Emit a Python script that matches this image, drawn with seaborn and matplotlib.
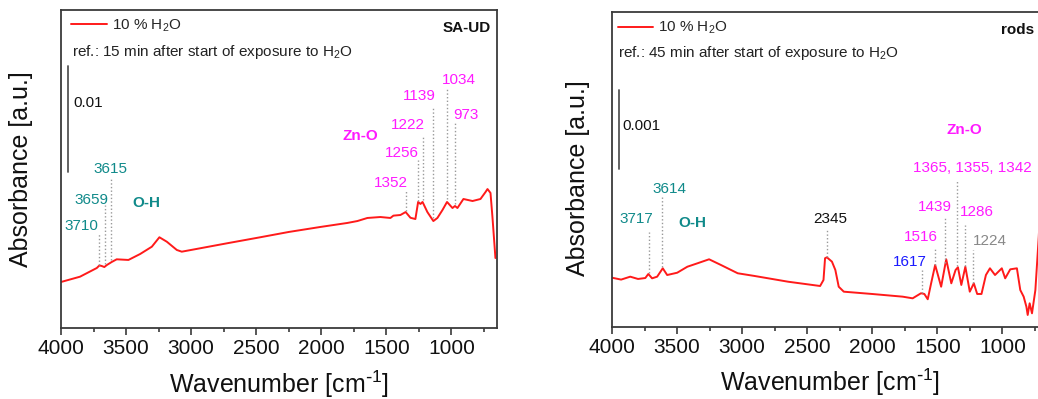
import numpy as np
import pandas as pd
import matplotlib
matplotlib.use("Agg")
import matplotlib.pyplot as plt
from matplotlib.ticker import MultipleLocator
import seaborn as sns

# ---------------- data ----------------
# Left panel: SA-UD, 10 % H2O (absorbance, arbitrary offset)
sa_wn = [4000, 3854, 3725, 3705, 3687, 3667, 3648, 3610, 3572, 3482, 3392, 3302,
         3244, 3187, 3110, 3072, 2931, 2725, 2469, 2250, 2008, 1800, 1723, 1646,
         1546, 1469, 1446, 1392, 1352, 1315, 1277, 1256, 1238, 1222, 1185, 1139,
         1108, 1069, 1034, 992, 973, 954, 908, 838, 777, 738, 723, 700, 685, 662]
sa_abs = [0.00434, 0.00484, 0.00566, 0.00590, 0.00585, 0.00575, 0.00594, 0.00623,
          0.00648, 0.00642, 0.00698, 0.00767, 0.00856, 0.00814, 0.00736, 0.00720,
          0.00752, 0.00799, 0.00856, 0.00906, 0.00953, 0.00991, 0.01009, 0.01038,
          0.01047, 0.01038, 0.01060, 0.01066, 0.01094, 0.01040, 0.01028, 0.01189,
          0.01170, 0.01189, 0.01094, 0.01009, 0.01038, 0.01113, 0.01189, 0.01132,
          0.01151, 0.01132, 0.01217, 0.01198, 0.01217, 0.01283, 0.01311, 0.01274,
          0.01047, 0.00660]

# Right panel: rods, 10 % H2O (absorbance x 1e-3, converted below)
rods_wn = [4000, 3930, 3860, 3800, 3744, 3721, 3692, 3653, 3610, 3576, 3499, 3421,
           3344, 3254, 3163, 3034, 2905, 2646, 2401, 2375, 2363, 2349, 2310, 2284,
           2258, 2219, 2002, 1767, 1690, 1626, 1600, 1574, 1548, 1517, 1471, 1432,
           1393, 1360, 1342, 1316, 1285, 1251, 1220, 1194, 1161, 1127, 1096, 1057,
           1005, 979, 940, 889, 863, 837, 816, 806, 791, 773, 747, 721, 708, 697,
           670, 640]
rods_mabs = [0.624, 0.600, 0.637, 0.608, 0.620, 0.671, 0.616, 0.637, 0.743, 0.658,
             0.687, 0.763, 0.806, 0.857, 0.785, 0.680, 0.646, 0.573, 0.519, 0.595,
             0.870, 0.882, 0.827, 0.722, 0.510, 0.447, 0.418, 0.384, 0.363, 0.427,
             0.418, 0.351, 0.553, 0.785, 0.510, 0.857, 0.553, 0.722, 0.756, 0.532,
             0.763, 0.447, 0.553, 0.418, 0.418, 0.658, 0.743, 0.658, 0.743, 0.616,
             0.730, 0.743, 0.468, 0.384, 0.257, 0.152, 0.300, 0.173, 0.468, 1.143,
             1.565, 1.273, 1.418, 1.354]
rods_abs = [v * 1e-3 for v in rods_mabs]

series_label = "10 % H$_2$O"
sa_ref_text = "ref.: 15 min after start of exposure to H$_2$O"
rods_ref_text = "ref.: 45 min after start of exposure to H$_2$O"
sa_scale = 0.01
rods_scale = 0.001

sa_peaks = ["3710", "3659", "3615", "1352", "1256", "1222", "1139", "1034", "973"]
rods_peaks = ["3717", "3614", "2345", "1617", "1516", "1439",
              "1365, 1355, 1342", "1286", "1224"]

# ---------------- style ----------------
sns.set_theme(style="white")
plt.rcParams["font.family"] = ["Liberation Sans", "DejaVu Sans"]
plt.rcParams["mathtext.default"] = "regular"

RED = "#FF1A1A"
TEAL = "#108A8A"
MAG = "#FF1AFF"
BLUE = "#1A1AFF"
GRAY = "#888888"
SPINE = "#3A3A3A"
DOT = "#999999"

fig = plt.figure(figsize=(10.38, 3.99), dpi=100)
W, H = 1038.0, 399.0
axL = fig.add_axes([61 / W, (H - 328) / H, 436 / W, 318 / H])
axR = fig.add_axes([612 / W, (H - 327) / H, 436 / W, 315 / H])

XLABEL = "Wavenumber [cm$^{\\text{-}1}$]"


def style_axes(ax, ylim):
    ax.set_xlim(4000, 650)
    ax.set_ylim(*ylim)
    ax.xaxis.set_major_locator(MultipleLocator(500))
    ax.xaxis.set_minor_locator(MultipleLocator(250))
    ax.tick_params(axis="x", which="major", bottom=True, top=False, direction="out",
                   length=5, width=1.2, color=SPINE, labelsize=15, pad=3,
                   labelcolor="#111111")
    ax.tick_params(axis="x", which="minor", bottom=True, top=False, direction="out",
                   length=3, width=1.2, color=SPINE)
    ax.tick_params(axis="y", left=False, right=False, labelleft=False)
    for s in ax.spines.values():
        s.set_visible(True)
        s.set_color(SPINE)
        s.set_linewidth(1.3)
    ax.grid(False)
    ax.set_xlabel(XLABEL, fontsize=18, color="#111111")
    ax.set_ylabel("Absorbance [a.u.]", fontsize=18, color="#111111")


def draw_curve(ax, wn, ab):
    df = pd.DataFrame({"wn": wn, "ab": ab})
    sns.lineplot(data=df, x="wn", y="ab", ax=ax, color=RED, linewidth=1.4,
                 sort=False, estimator=None, label=series_label)


def peak(ax, wn, ab, text, xline, ytop, xt, yt, color, ha="center", fs=11):
    ycur = np.interp(xline, wn[::-1], ab[::-1])
    ax.plot([xline, xline], [ycur + (ytop - ycur) * 0.03, ytop], ls=(0, (1, 1.6)),
            color=DOT, lw=1.0)
    ax.text(xt, yt, text, color=color, fontsize=fs, ha=ha, va="center")


# ---------------- left panel ----------------
draw_curve(axL, sa_wn, sa_abs)
style_axes(axL, (0.0, 0.0300))
axL.yaxis.set_label_coords(-0.064, 0.5)
axL.xaxis.set_label_coords(0.5, -0.128)
axL.legend(loc="center left", bbox_to_anchor=(0.024, 0.951), frameon=False,
           fontsize=11, handlelength=2.3, handletextpad=0.35, borderpad=0,
           borderaxespad=0)
axL.text(0.025, 0.868, sa_ref_text, transform=axL.transAxes, fontsize=11,
         va="center", ha="left", color="#222222")
axL.text(0.986, 0.943, "SA-UD", transform=axL.transAxes, fontsize=11,
         fontweight="bold", va="center", ha="right", color="#111111")
axL.plot([0.016, 0.016], [0.01472, 0.01472 + sa_scale], color="#555555", lw=1.3,
         transform=axL.get_yaxis_transform())
axL.text(0.028, 0.7075, "0.01", transform=axL.transAxes, fontsize=11,
         va="center", ha="left", color="#111111")

wnL = np.array(sa_wn, float)
abL = np.array(sa_abs, float)
sa_pos = {  # text: (line x, line top, text x, text y, colour, ha)
    "3710": (3710, 0.00896, 3712, 0.00962, TEAL, "right"),
    "3659": (3659, 0.01160, 3638, 0.01208, TEAL, "right"),
    "3615": (3615, 0.01415, 3623, 0.01500, TEAL, "center"),
    "1352": (1352, 0.01292, 1338, 0.01368, MAG, "right"),
    "1256": (1256, 0.01585, 1254, 0.01651, MAG, "right"),
    "1222": (1222, 0.01802, 1208, 0.01915, MAG, "right"),
    "1139": (1139, 0.02085, 1123, 0.02189, MAG, "right"),
    "1034": (1034, 0.02255, 946, 0.02340, MAG, "center"),
    "973": (973, 0.01934, 885, 0.02009, MAG, "center"),
}
for t in sa_peaks:
    xl, yt_, xt, yt, c, ha = sa_pos[t]
    peak(axL, wnL, abL, t, xl, yt_, xt, yt, c, ha)
axL.text(1700, 0.01811, "Zn-O", color=MAG, fontsize=11, fontweight="bold",
         ha="center", va="center")
axL.text(3346, 0.01179, "O-H", color=TEAL, fontsize=11, fontweight="bold",
         ha="center", va="center")

# ---------------- right panel ----------------
draw_curve(axR, rods_wn, rods_abs)
style_axes(axR, (0.0, 0.003987))
axR.yaxis.set_label_coords(-0.050, 0.473)
axR.xaxis.set_label_coords(0.5, -0.127)
axR.legend(loc="center left", bbox_to_anchor=(0.013, 0.949), frameon=False,
           fontsize=11, handlelength=2.3, handletextpad=0.35, borderpad=0,
           borderaxespad=0)
axR.text(0.014, 0.870, rods_ref_text, transform=axR.transAxes, fontsize=11,
         va="center", ha="left", color="#222222")
axR.text(0.968, 0.943, "rods", transform=axR.transAxes, fontsize=11,
         fontweight="bold", va="center", ha="right", color="#111111")
axR.plot([0.016, 0.016], [0.0020, 0.0020 + rods_scale], color="#555555", lw=1.3,
         transform=axR.get_yaxis_transform())
axR.text(0.023, 0.638, "0.001", transform=axR.transAxes, fontsize=11,
         va="center", ha="left", color="#111111")

wnR = np.array(rods_wn, float)
abR = np.array(rods_abs, float)
rods_pos = {
    "3717": (3717, 1.203e-3, 3814, 1.367e-3, TEAL, "center"),
    "3614": (3614, 1.646e-3, 3558, 1.747e-3, TEAL, "center"),
    "2345": (2345, 1.228e-3, 2326, 1.367e-3, "#111111", "center"),
    "1617": (1617, 0.722e-3, 1713, 0.823e-3, BLUE, "center"),
    "1516": (1516, 1.013e-3, 1628, 1.139e-3, MAG, "center"),
    "1439": (1439, 1.380e-3, 1519, 1.519e-3, MAG, "center"),
    "1365, 1355, 1342": (1350, 1.861e-3, 1233, 2.013e-3, MAG, "center"),
    "1286": (1286, 1.291e-3, 1194, 1.456e-3, MAG, "center"),
    "1224": (1224, 0.975e-3, 1093, 1.089e-3, GRAY, "center"),
}
for t in rods_peaks:
    xl, yt_, xt, yt, c, ha = rods_pos[t]
    peak(axR, wnR, abR, t, xl, yt_, xt, yt, c, ha)
axR.text(1295, 2.494e-3, "Zn-O", color=MAG, fontsize=11, fontweight="bold",
         ha="center", va="center")
axR.text(3380, 1.316e-3, "O-H", color=TEAL, fontsize=11, fontweight="bold",
         ha="center", va="center")

fig.savefig("out.png", dpi=100)
